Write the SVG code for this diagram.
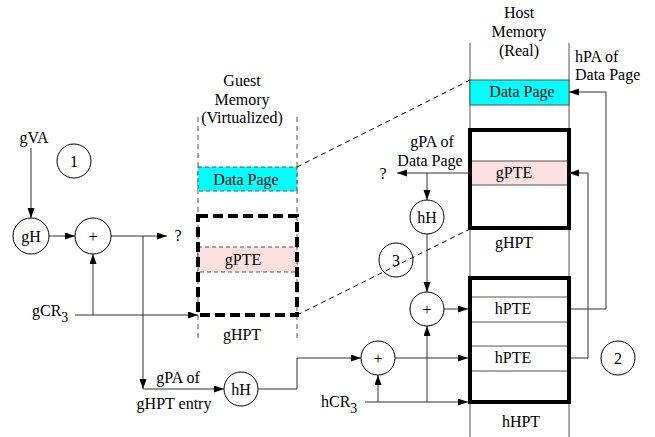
<svg xmlns="http://www.w3.org/2000/svg" width="655" height="437" viewBox="0 0 655 437" font-family="'Liberation Serif', serif" font-size="16">
<style>
text{font-family:'Liberation Serif',serif;font-size:16px;fill:#000;text-anchor:middle}
.l{text-anchor:start}
.sub{font-size:14px}
.c{fill:none;stroke:#000;stroke-width:1}
.col{stroke:#555;stroke-width:1;fill:none}
.gcol{stroke:#555;stroke-width:1;fill:none;stroke-dasharray:5 4}
.cyan{fill:#00FFFF}
.pink{fill:#FFE0E0}
.solid{stroke:#555;stroke-width:1}
.dash{stroke:#555;stroke-width:1;stroke-dasharray:4 3}
.thick{fill:none;stroke:#000;stroke-width:4}
.thickd{fill:none;stroke:#000;stroke-width:4;stroke-dasharray:10 5}
.diag{stroke:#000;stroke-width:1;stroke-dasharray:5 4;fill:none}
.w{fill:none;stroke:#333;stroke-width:1}
.a{marker-end:url(#ah)}
</style>
<defs>
<marker id="ah" markerUnits="userSpaceOnUse" markerWidth="11" markerHeight="8" refX="10" refY="3.5" orient="auto">
<path d="M0,0 L10,3.5 L0,7 z" fill="#000"/>
</marker>
</defs>
<rect width="655" height="437" fill="#fff"/>

<g id="guest-memory">
<text x="242" y="86">Guest</text>
<text x="242" y="105">Memory</text>
<text x="242" y="123">(Virtualized)</text>
<line class="gcol" x1="198" y1="117" x2="198" y2="340"/>
<line class="gcol" x1="297" y1="117" x2="297" y2="340"/>
</g>
<g id="guest-data-page">
<rect class="cyan dash" x="198" y="167" width="99" height="24"/>
<text x="246" y="185">Data Page</text>
</g>
<g id="guest-gpte">
<rect class="pink dash" x="198" y="247" width="99" height="25"/>
<text x="243" y="265">gPTE</text>
</g>
<g id="guest-ghpt">
<rect class="thickd" x="198" y="216" width="99" height="99"/>
<text x="242" y="340">gHPT</text>
</g>

<g id="host-memory">
<text x="519" y="18">Host</text>
<text x="519" y="37">Memory</text>
<text x="519" y="56">(Real)</text>
<line class="col" x1="470" y1="43" x2="470" y2="437"/>
<line class="col" x1="569" y1="43" x2="569" y2="437"/>
<text class="l" x="575" y="62">hPA of</text>
<text class="l" x="575" y="80">Data Page</text>
</g>
<g id="host-data-page">
<rect class="cyan solid" x="470" y="80" width="99" height="25"/>
<text x="522" y="97">Data Page</text>
</g>
<g id="host-ghpt">
<rect class="pink solid" x="470" y="161" width="99" height="24"/>
<text x="514" y="178">gPTE</text>
<rect class="thick" x="470" y="130" width="99" height="98"/>
<text x="514" y="248">gHPT</text>
</g>
<g id="host-hhpt">
<line class="solid" x1="470" y1="297" x2="569" y2="297"/>
<line class="solid" x1="470" y1="322" x2="569" y2="322"/>
<line class="solid" x1="470" y1="346" x2="569" y2="346"/>
<line class="solid" x1="470" y1="371" x2="569" y2="371"/>
<text x="513" y="314">hPTE</text>
<text x="513" y="363">hPTE</text>
<rect class="thick" x="470" y="278" width="99" height="124"/>
<text x="521" y="427">hHPT</text>
</g>

<g id="label-gva"><text x="34" y="143">gVA</text></g>
<g id="label-gcr3"><text class="l" x="32" y="316">gCR<tspan class="sub" dy="6">3</tspan></text></g>
<g id="label-hcr3"><text class="l" x="321" y="407">hCR<tspan class="sub" dy="6">3</tspan></text></g>
<g id="label-q1"><text x="178" y="241">?</text></g>
<g id="label-q2"><text x="383" y="179">?</text></g>
<g id="label-gpa-ghpt"><text x="178" y="383">gPA of</text><text x="174" y="409">gHPT entry</text></g>
<g id="label-gpa-data"><text x="432" y="147">gPA of</text><text x="430" y="166">Data Page</text></g>

<g id="step1"><circle class="c" cx="74" cy="161" r="17"/><text x="74" y="167">1</text></g>
<g id="step2"><circle class="c" cx="618" cy="358" r="17"/><text x="618" y="364">2</text></g>
<g id="step3"><circle class="c" cx="396" cy="260" r="17"/><text x="396" y="266">3</text></g>
<g id="gH"><circle class="c" cx="31" cy="236" r="18"/><text x="31" y="242">gH</text></g>
<g id="plus1"><circle class="c" cx="93" cy="236" r="18"/><text x="93" y="242">+</text></g>
<g id="hH-lower"><circle class="c" cx="241" cy="389" r="17"/><text x="241" y="395">hH</text></g>
<g id="plus2"><circle class="c" cx="378" cy="358" r="17"/><text x="378" y="364">+</text></g>
<g id="hH-upper"><circle class="c" cx="427" cy="217" r="17"/><text x="427" y="223">hH</text></g>
<g id="plus3"><circle class="c" cx="427" cy="309" r="17"/><text x="427" y="315">+</text></g>

<g id="connectors">
<line class="diag" x1="297" y1="167" x2="470" y2="80"/>
<line class="diag" x1="297" y1="315" x2="470" y2="229"/>
<path class="w a" d="M31,148 V218"/>
<path class="w a" d="M49,236 H75"/>
<path class="w a" d="M111,236 H167"/>
<path class="w a" d="M143,236 V389"/>
<path class="w a" d="M143,389 H224"/>
<path class="w a" d="M75,315 H198"/>
<path class="w a" d="M93,315 V254"/>
<path class="w a" d="M258,389 H297 V358 H361"/>
<path class="w a" d="M395,358 H468"/>
<path class="w a" d="M365,402 H468"/>
<path class="w a" d="M378,402 V375"/>
<path class="w a" d="M427,402 V326"/>
<path class="w a" d="M444,309 H468"/>
<path class="w a" d="M427,234 V292"/>
<path class="w a" d="M470,173 H397"/>
<path class="w a" d="M427,173 V200"/>
<path class="w a" d="M571,309 H606 V92 H569"/>
<path class="w a" d="M571,358 H588 V173 H569"/>
</g>
</svg>
